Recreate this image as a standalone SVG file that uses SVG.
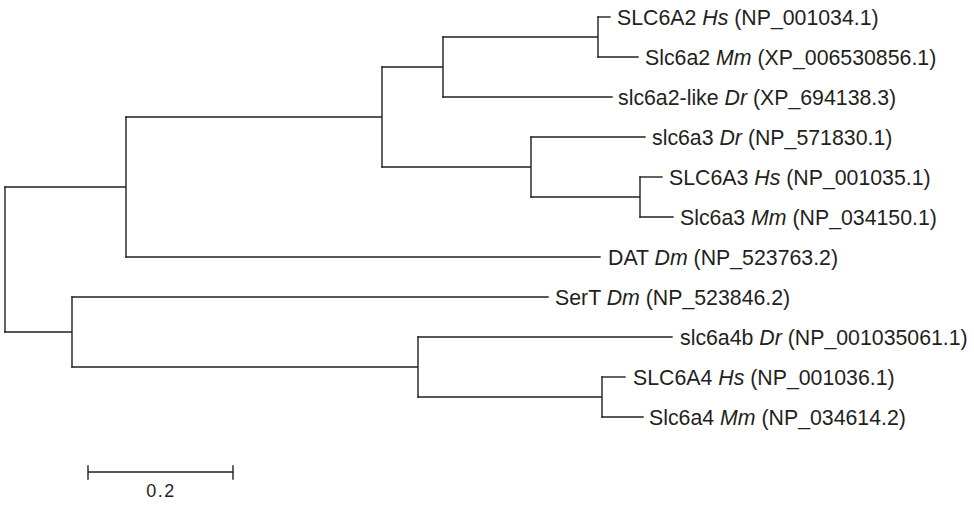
<svg xmlns="http://www.w3.org/2000/svg" width="974" height="505" viewBox="0 0 974 505">
<style>
  .br { fill: none; stroke: #231f20; stroke-width: 1.4; stroke-linecap: square; }
  .lb { font-family: "Liberation Sans", Arial, sans-serif; font-size: 21.3px; fill: #231f20; }
  .sp { font-style: italic; }
  .sc { font-family: "Liberation Sans", Arial, sans-serif; font-size: 18px; fill: #231f20; letter-spacing: 1.5px; }
</style>
<rect width="974" height="505" fill="#ffffff"/>
<g id="connectors">
  <path class="br" d="M5,187 V332"/>
  <path class="br" d="M5,187 H126 M126,117 V257"/>
  <path class="br" d="M126,117 H382 M382,67 V167"/>
  <path class="br" d="M126,257 H600"/>
  <path class="br" d="M382,67 H443 M443,37 V97"/>
  <path class="br" d="M443,37 H598 M598,17 V57"/>
  <path class="br" d="M598,17 H610"/>
  <path class="br" d="M598,57 H638"/>
  <path class="br" d="M443,97 H612"/>
  <path class="br" d="M382,167 H531 M531,137 V197"/>
  <path class="br" d="M531,137 H645"/>
  <path class="br" d="M531,197 H640 M640,177 V217"/>
  <path class="br" d="M640,177 H662"/>
  <path class="br" d="M640,217 H673"/>
  <path class="br" d="M5,332 H72 M72,297 V367"/>
  <path class="br" d="M72,297 H548"/>
  <path class="br" d="M72,367 H418 M418,337 V397"/>
  <path class="br" d="M418,337 H672"/>
  <path class="br" d="M418,397 H602 M602,377 V417"/>
  <path class="br" d="M602,377 H625"/>
  <path class="br" d="M602,417 H643"/>
</g>
<g id="leaf-slc6a2-hs"><text class="lb" x="617" y="24.5">SLC6A2 <tspan class="sp">Hs</tspan> (NP_001034.1)</text></g>
<g id="leaf-slc6a2-mm"><text class="lb" x="645" y="64.5">Slc6a2 <tspan class="sp">Mm</tspan> (XP_006530856.1)</text></g>
<g id="leaf-slc6a2like-dr"><text class="lb" x="618" y="104.5">slc6a2-like <tspan class="sp">Dr</tspan> (XP_694138.3)</text></g>
<g id="leaf-slc6a3-dr"><text class="lb" x="652" y="144.5">slc6a3 <tspan class="sp">Dr</tspan> (NP_571830.1)</text></g>
<g id="leaf-slc6a3-hs"><text class="lb" x="669" y="184.5">SLC6A3 <tspan class="sp">Hs</tspan> (NP_001035.1)</text></g>
<g id="leaf-slc6a3-mm"><text class="lb" x="680" y="224.5">Slc6a3 <tspan class="sp">Mm</tspan> (NP_034150.1)</text></g>
<g id="leaf-dat-dm"><text class="lb" x="608" y="264.5">DAT <tspan class="sp">Dm</tspan> (NP_523763.2)</text></g>
<g id="leaf-sert-dm"><text class="lb" x="555" y="304.5">SerT <tspan class="sp">Dm</tspan> (NP_523846.2)</text></g>
<g id="leaf-slc6a4b-dr"><text class="lb" x="680" y="344.5">slc6a4b <tspan class="sp">Dr</tspan> (NP_001035061.1)</text></g>
<g id="leaf-slc6a4-hs"><text class="lb" x="633" y="384.5">SLC6A4 <tspan class="sp">Hs</tspan> (NP_001036.1)</text></g>
<g id="leaf-slc6a4-mm"><text class="lb" x="649" y="424.5">Slc6a4 <tspan class="sp">Mm</tspan> (NP_034614.2)</text></g>
<g id="scale-bar">
  <path class="br" d="M88,472 H233 M88,466 V479 M233,466 V479"/>
  <text class="sc" x="161" y="497" text-anchor="middle">0.2</text>
</g>
</svg>
